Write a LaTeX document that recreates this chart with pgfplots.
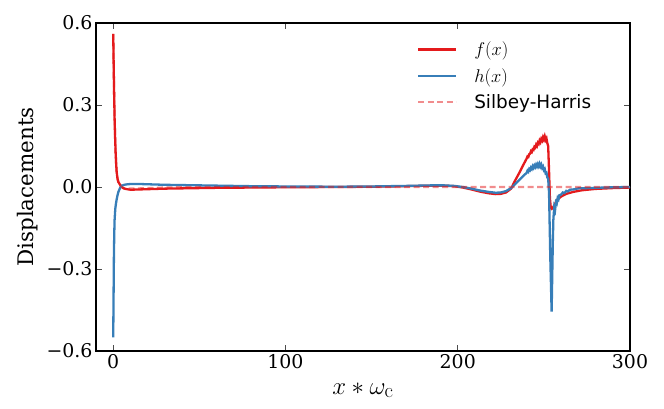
\RequirePackage{fix-cm}
\documentclass[border=0pt]{standalone}
\usepackage[no-math]{fontspec}
\setmainfont{DejaVu Serif}
\newfontfamily\dvsans{DejaVu Sans}
\usepackage{pgfplots}
\pgfplotsset{compat=1.18}

\definecolor{fred}{RGB}{228,26,28}
\definecolor{hblue}{RGB}{55,126,184}

\begin{document}
\begin{tikzpicture}
\begin{axis}[
    width=534bp, height=328bp, scale only axis,
    xmin=-10, xmax=300, ymin=-0.6, ymax=0.6,
    xtick={0,100,200,300},
    ytick={-0.6,-0.3,0,0.3,0.6},
    yticklabels={−0.6,−0.3,0.0,0.3,0.6},
    /pgf/number format/assume math mode=true,
    tick align=inside, xtick pos=both, ytick pos=both,
    major tick length=6bp,
    tick style={line width=0.9bp, color=black!70},
    axis line style={line width=1.3bp},
    ticklabel style={font=\fontsize{19}{22}\selectfont},
    label style={font=\fontsize{21.5}{25}\selectfont},
    xlabel={$x*\omega_{\mathrm{c}}$},
    xlabel style={at={(axis description cs:0.5,0)}, anchor=base, yshift=-43bp,
      font=\fontsize{24.88}{29}\selectfont},
    ylabel={Displacements},
    ylabel style={at={(axis description cs:-0.129,0.5)}, anchor=center},
    legend style={at={(axis description cs:0.937,0.955)}, anchor=north east,
      draw=none, fill=none, font=\fontsize{18.5}{21}\selectfont,
      row sep=7bp, /tikz/every odd column/.append style={column sep=15bp}},
    legend cell align=left,
    legend image code/.code={\draw[#1] (0bp,0bp) -- (38bp,0bp);},
  ]
% f(x)
\addplot[fred, line width=2.3bp] coordinates {
 (0,0.56) (0.25,0.45) (0.5,0.35) (0.8,0.25) (1.1,0.18) (1.4,0.125) (1.7,0.085)
 (2,0.055) (2.5,0.03) (3,0.018) (4,0.008) (5,0.0) (6,-0.005) (8,-0.008)
 (10,-0.01) (15,-0.009) (20,-0.008) (30,-0.006) (40,-0.005) (60,-0.003)
 (80,-0.002) (100,-0.001) (130,0.0) (150,0.001) (170,0.003) (185,0.005)
 (192,0.005) (198,0.003) (203,-0.002) (208,-0.009) (213,-0.017) (218,-0.023)
 (222,-0.026) (225,-0.025) (228,-0.02) (231,-0.006) (233,0.02) (236,0.055)
 (238,0.08) (239,0.092) (240,0.104) (240.5,0.112) (241,0.110) (241.5,0.120)
 (242,0.122) (242.5,0.131) (243,0.128) (243.5,0.138) (244,0.136) (244.5,0.147)
 (245,0.144) (245.5,0.155) (246,0.150) (246.5,0.162) (247,0.158) (247.5,0.170)
 (248,0.164) (248.5,0.176) (249,0.170) (249.5,0.182) (250,0.174) (250.5,0.185)
 (251,0.172) (251.5,0.178) (252,0.160) (252.5,0.150) (253,0.06) (253.5,-0.04)
 (254,-0.075) (254.5,-0.08) (255,-0.078) (255.5,-0.072) (256,-0.068)
 (257,-0.055) (258,-0.045) (260,-0.035) (263,-0.025) (267,-0.018) (272,-0.012)
 (280,-0.007) (290,-0.004) (300,-0.002)
};
\addlegendentry{$f(x)$}
% h(x)
\addplot[hblue, line width=2.3bp] coordinates {
 (0,-0.55) (0.2,-0.4) (0.4,-0.25) (0.6,-0.17) (0.8,-0.12) (1.2,-0.08)
 (1.6,-0.06) (2,-0.045) (2.5,-0.03) (3,-0.018) (4,-0.003) (5,0.005) (7,0.009)
 (10,0.011) (15,0.011) (20,0.01) (30,0.008) (40,0.007) (60,0.005) (80,0.003)
 (100,0.002) (130,0.001) (150,0.002) (170,0.004) (185,0.006) (192,0.006)
 (198,0.004) (203,0.0) (208,-0.006) (213,-0.013) (218,-0.018) (222,-0.021)
 (225,-0.02) (228,-0.015) (231,-0.004) (234,0.015) (238,0.04) (240,0.052)
 (240.5,0.060) (241,0.056) (241.5,0.066) (242,0.062) (242.5,0.071) (243,0.066)
 (243.5,0.076) (244,0.070) (244.5,0.079) (245,0.073) (245.5,0.082) (246,0.075)
 (246.5,0.084) (247,0.076) (247.5,0.085) (248,0.075) (248.5,0.082) (249,0.070)
 (249.5,0.075) (250,0.062) (250.5,0.066) (251,0.050) (251.5,0.052) (252,0.035)
 (252.5,0.03) (253,-0.02) (253.7,-0.25) (254.5,-0.456) (255.2,-0.2)
 (255.5,-0.12) (256,-0.075) (256.5,-0.085) (257,-0.055) (257.5,-0.06)
 (258,-0.04) (258.5,-0.045) (259,-0.03) (260,-0.028) (261,-0.02) (262,-0.022)
 (263,-0.014) (264,-0.016) (265,-0.01) (267,-0.009) (270,-0.005) (280,-0.003)
 (290,-0.001) (300,0.0)
};
\addlegendentry{$h(x)$}
% Silbey-Harris
\addplot[fred, opacity=0.5, line width=2.3bp, dash pattern=on 6bp off 3.5bp] coordinates {
 (0,0.56) (0.25,0.45) (0.5,0.35) (0.8,0.25) (1.1,0.18) (1.4,0.125) (1.7,0.085)
 (2,0.055) (2.5,0.03) (3,0.018) (4,0.006) (5,0.0) (6,-0.004) (8,-0.006)
 (12,-0.006) (20,-0.004) (30,-0.002) (50,0.0) (300,0.0)
};
\addlegendentry{{\dvsans Silbey-Harris}}
\end{axis}
\pgfresetboundingbox
\path (current axis.south west) ++(-96bp,-58bp) rectangle ++(664bp,409bp);
\end{tikzpicture}
\end{document}
